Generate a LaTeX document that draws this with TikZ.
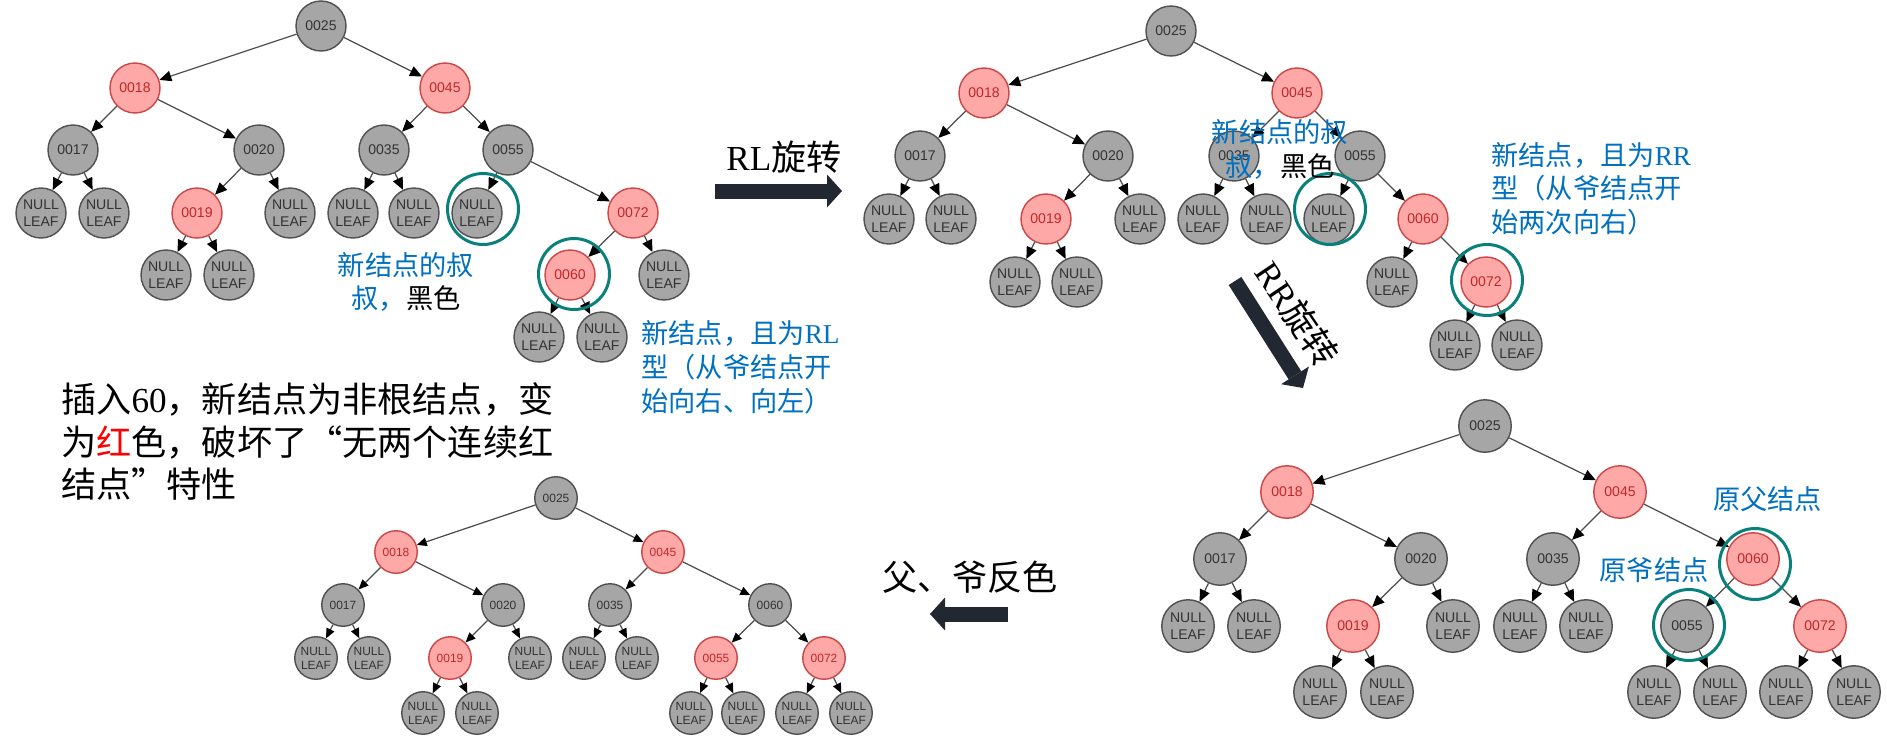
\documentclass[tikz,border=0pt]{standalone}
\usepackage{fontspec}
\setmainfont{Liberation Serif}
\newfontfamily\cjk{Noto Sans CJK SC}
\newfontfamily\lab{Liberation Sans}
\usetikzlibrary{arrows.meta}
\definecolor{nodegray}{RGB}{166,166,166}
\definecolor{nodeline}{RGB}{80,80,80}
\definecolor{redfill}{RGB}{255,168,168}
\definecolor{redline}{RGB}{205,70,70}
\definecolor{redtext}{RGB}{190,40,40}
\definecolor{ringteal}{RGB}{10,128,122}
\definecolor{noteblue}{RGB}{0,112,192}
\definecolor{arrowdark}{RGB}{34,40,49}
\newcommand\nullleaf{NULL\\LEAF}

\begin{document}
\begin{tikzpicture}[x=0.02cm,y=-0.02cm,
 tnode/.style={circle,inner sep=0pt,minimum size=1cm,line width=0.8pt,align=center,font=\lab\fontsize{8}{9.5}\selectfont},
 bnode/.style={tnode,draw=nodeline,fill=nodegray,text=black!80},
 rnode/.style={tnode,draw=redline,fill=redfill,text=redtext},
 csize/.style={minimum size=1.05cm},
 dsize/.style={minimum size=0.85cm,font=\lab\fontsize{6.8}{8}\selectfont},
 link/.style={draw=black!70,line width=0.7pt,-{Triangle[length=0.24cm,width=0.21cm,color=black]}},
 linksm/.style={link,-{Triangle[length=0.2cm,width=0.17cm,color=black]}},
 ring/.style={circle,draw=ringteal,line width=1.7pt,minimum size=1.42cm,inner sep=0pt},
 note/.style={font=\cjk\fontsize{15.5}{19.3}\selectfont,text=noteblue,inner sep=0pt},
 say/.style={font=\cjk\fontsize{20}{24.1}\selectfont,inner sep=0pt},
 tag/.style={font=\cjk\fontsize{20}{24}\selectfont,inner sep=0pt},
 bigarrow/.style={draw=arrowdark,line width=0.3cm,-{Triangle[length=0.3cm,width=0.66cm,line width=0pt]}}]
 \useasboundingbox[fill=white] (0,0) rectangle (1887,738);

 % tree before the RL rotation
 \foreach \n/\x/\y/\k/\t in {a25/321/26/bnode/0025,a18/135/88/rnode/0018,a45/445/88/rnode/0045,
   a17/73/150/bnode/0017,a20/259/150/bnode/0020,a35/384/150/bnode/0035,a55/508/150/bnode/0055,
   an1/41/213/bnode/\nullleaf,an2/104/213/bnode/\nullleaf,a19/197/213/rnode/0019,an3/290/213/bnode/\nullleaf,
   an4/353/213/bnode/\nullleaf,an5/414/213/bnode/\nullleaf,an6/477/213/bnode/\nullleaf,a72/633/213/rnode/0072,
   an7/166/275/bnode/\nullleaf,an8/229/275/bnode/\nullleaf,a60/570/275/rnode/0060,an9/664/275/bnode/\nullleaf,
   an10/539/337/bnode/\nullleaf,an11/602/337/bnode/\nullleaf}
   \node[\k] (\n) at (\x,\y) {\t};
 \foreach \p/\c in {a25/a18,a25/a45,a18/a17,a18/a20,a17/an1,a17/an2,a20/a19,a20/an3,a19/an7,a19/an8,
   a45/a35,a45/a55,a35/an4,a35/an5,a55/an6,a55/a72,a72/a60,a72/an9,a60/an10,a60/an11}
   \draw[link] (\p) -- (\c);

 % after the RL rotation
 \foreach \n/\x/\y/\k/\t in {b25/1171/31/bnode/0025,b18/984/93/rnode/0018,b45/1297/93/rnode/0045,
   b17/920/156/bnode/0017,b20/1108/156/bnode/0020,b35/1234/156/bnode/0035,b55/1360/156/bnode/0055,
   bn1/889/219/bnode/\nullleaf,bn2/951/219/bnode/\nullleaf,b19/1046/219/rnode/0019,bn3/1140/219/bnode/\nullleaf,
   bn4/1203/219/bnode/\nullleaf,bn5/1266/219/bnode/\nullleaf,bn6/1329/219/bnode/\nullleaf,b60/1423/219/rnode/0060,
   bn7/1015/282/bnode/\nullleaf,bn8/1077/282/bnode/\nullleaf,bn9/1392/282/bnode/\nullleaf,b72/1486/282/rnode/0072,
   bn10/1455/345/bnode/\nullleaf,bn11/1517/345/bnode/\nullleaf}
   \node[\k] (\n) at (\x,\y) {\t};
 \foreach \p/\c in {b25/b18,b25/b45,b18/b17,b18/b20,b17/bn1,b17/bn2,b20/b19,b20/bn3,b19/bn7,b19/bn8,
   b45/b35,b45/b55,b35/bn4,b35/bn5,b55/bn6,b55/b60,b60/bn9,b60/b72,b72/bn10,b72/bn11}
   \draw[link] (\p) -- (\c);

 % after the RR rotation
 \foreach \n/\x/\y/\k/\t in {c25/1485/426/bnode/0025,c18/1287/492/rnode/0018,c45/1620/492/rnode/0045,
   c17/1220/559/bnode/0017,c20/1421/559/bnode/0020,c35/1553/559/bnode/0035,c60/1753/559/rnode/0060,
   cn1/1188/626/bnode/\nullleaf,cn2/1254/626/bnode/\nullleaf,c19/1353/626/rnode/0019,cn3/1453/626/bnode/\nullleaf,
   cn4/1520/626/bnode/\nullleaf,cn5/1586/626/bnode/\nullleaf,c55/1687/626/bnode/0055,c72/1820/626/rnode/0072,
   cn6/1320/692/bnode/\nullleaf,cn7/1387/692/bnode/\nullleaf,cn8/1654/692/bnode/\nullleaf,cn9/1720/692/bnode/\nullleaf,
   cn10/1786/692/bnode/\nullleaf,cn11/1854/692/bnode/\nullleaf}
   \node[\k,csize] (\n) at (\x,\y) {\t};

 % after recolouring
 \foreach \n/\x/\y/\k/\t in {d25/556/498/bnode/0025,d18/396/552/rnode/0018,d45/663/552/rnode/0045,
   d17/343/605/bnode/0017,d20/503/605/bnode/0020,d35/610/605/bnode/0035,d60/770/605/bnode/0060,
   dn1/316/658/bnode/\nullleaf,dn2/369/658/bnode/\nullleaf,d19/450/658/rnode/0019,dn3/530/658/bnode/\nullleaf,
   dn4/584/658/bnode/\nullleaf,dn5/637/658/bnode/\nullleaf,d55/716/658/rnode/0055,d72/824/658/rnode/0072,
   dn6/423/713/bnode/\nullleaf,dn7/477/713/bnode/\nullleaf,dn8/691/713/bnode/\nullleaf,dn9/743/713/bnode/\nullleaf,
   dn10/797/713/bnode/\nullleaf,dn11/851/713/bnode/\nullleaf}
   \node[\k,dsize] (\n) at (\x,\y) {\t};
 \foreach \t/\s in {c/link,d/linksm}
   \foreach \p/\c in {25/18,25/45,18/17,18/20,17/n1,17/n2,20/19,20/n3,19/n6,19/n7,
     45/35,45/60,35/n4,35/n5,60/55,60/72,55/n8,55/n9,72/n10,72/n11}
     \draw[\s] (\t\p) -- (\t\c);

 % rings
 \node[ring] (ringa1) at ([shift={(6,-4)}]an6) {};
 \node[ring] (ringa2) at ([shift={(4,-1)}]a60) {};
 \node[ring] (ringb1) at ([shift={(1,-10)}]bn6) {};
 \node[ring] (ringb2) at ([shift={(1,-2)}]b72) {};
 \node[ring] (ringc1) at ([shift={(2,5)}]c60) {};
 \node[ring] (ringc2) at ([shift={(2,-1)}]c55) {};

 % notes
 \node[note,align=center] (unclea) at (406,282) {新结点的叔\\叔，\textcolor{black}{黑色}};
 \node[note,align=left,anchor=west] (typea) at (641,367.5) {新结点，且为{\rmfamily RL}\\型（从爷结点开\\始向右、向左）};
 \node[note,align=center] (uncleb) at (1280,149.6) {新结点的叔\\叔，\textcolor{black}{黑色}};
 \node[note,align=left,anchor=west] (typeb) at (1491,188.8) {新结点，且为{\rmfamily RR}\\型（从爷结点开\\始两次向右）};
 \node[note] (parentc) at (1767.5,499) {原父结点};
 \node[note] (grandc) at (1654,570) {原爷结点};
 \node[say,align=left,anchor=west] (insert) at (61,441.7)
   {插入{\rmfamily 60}，新结点为非根结点，变\\为\textcolor{red}{红}色，破坏了“无两个连续红\\结点”特性};

 % step arrows
 \coordinate (rlfrom) at (715,191);
 \coordinate (rlto) at (842,191);
 \coordinate (rrfrom) at (1235,281);
 \coordinate (rrto) at (1303,388);
 \coordinate (swfrom) at (1008,614);
 \coordinate (swto) at (930,614);
 \draw[bigarrow] (rlfrom) -- (rlto);
 \draw[bigarrow] (rrfrom) -- (rrto);
 \draw[bigarrow] (swfrom) -- (swto);
 \node[tag] (rltag) at (784,157.5) {{\rmfamily RL}旋转};
 \node[tag,rotate=-56] (rrtag) at (1297,314) {{\rmfamily RR}旋转};
 \node[tag] (swtag) at (970,577) {父、爷反色};
\end{tikzpicture}
\end{document}
